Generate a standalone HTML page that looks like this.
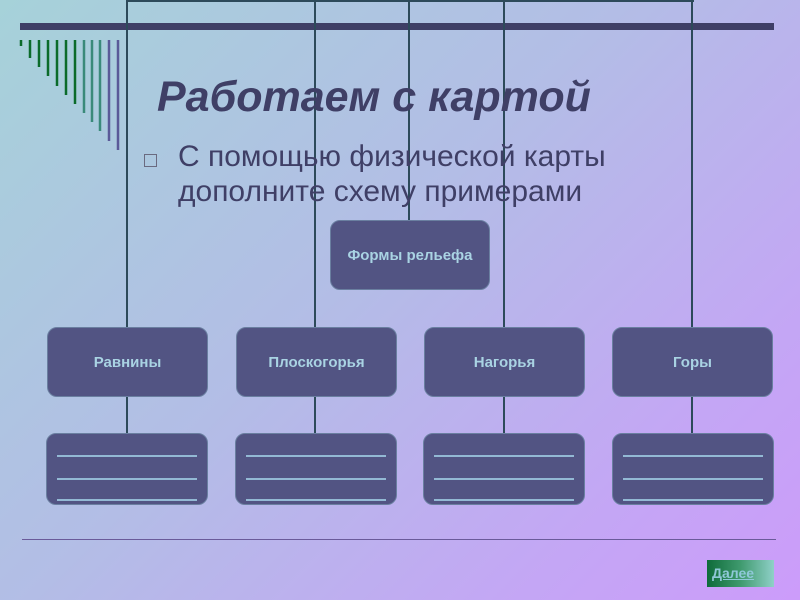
<!DOCTYPE html>
<html><head><meta charset="utf-8"><style>
body{margin:0}
#p{position:relative;width:800px;height:600px;overflow:hidden;background:linear-gradient(135deg,#a6d2d9 0%,#b3bde6 45%,#c4a6f5 80%,#cc9cfa 100%);font-family:"Liberation Sans",sans-serif}
.a{position:absolute}
.v{position:absolute;width:2px;background:#2d4a5a}
.b{position:absolute;background:#525483;border:1px solid #6a7fa0;border-radius:10px;box-sizing:border-box;color:#a9d3e3;font-weight:bold;font-size:15px;display:flex;align-items:center;justify-content:center}
.l{position:absolute;left:10px;right:10px;height:2px;background:#93b9d4}
</style></head><body><div id="p">
<div class="a" style="left:20px;top:23px;width:754px;height:7px;background:#3f3f66"></div>
<div class="a" style="left:126px;top:0;width:568px;height:2px;background:#2d4a5a"></div>
<div class="v" style="left:126px;top:0;height:328px"></div>
<div class="v" style="left:314px;top:0;height:328px"></div>
<div class="v" style="left:408px;top:0;height:221px"></div>
<div class="v" style="left:503px;top:0;height:328px"></div>
<div class="v" style="left:691px;top:0;height:328px"></div>
<div class="v" style="left:126px;top:396px;height:38px"></div>
<div class="v" style="left:314px;top:396px;height:38px"></div>
<div class="v" style="left:503px;top:396px;height:38px"></div>
<div class="v" style="left:691px;top:396px;height:38px"></div>
<svg class="a" style="left:0;top:0" width="130" height="170">
<g stroke-width="2.5">
<line x1="21" y1="40" x2="21" y2="46" stroke="#0b6b2a"/>
<line x1="30" y1="40" x2="30" y2="58" stroke="#0b6b2a"/>
<line x1="39" y1="40" x2="39" y2="67" stroke="#0b6b2a"/>
<line x1="48" y1="40" x2="48" y2="76" stroke="#0b6b2a"/>
<line x1="57" y1="40" x2="57" y2="86" stroke="#0b6b2a"/>
<line x1="66" y1="40" x2="66" y2="95" stroke="#0b6b2a"/>
<line x1="75" y1="40" x2="75" y2="104" stroke="#0b6b2a"/>
<line x1="84" y1="40" x2="84" y2="113" stroke="#3a8a7a"/>
<line x1="92" y1="40" x2="92" y2="122" stroke="#3a8a7a"/>
<line x1="100" y1="40" x2="100" y2="131" stroke="#3a8a7a"/>
<line x1="109" y1="40" x2="109" y2="141" stroke="#5a5a98"/>
<line x1="118" y1="40" x2="118" y2="150" stroke="#5a5a98"/>
</g></svg>
<div class="a" style="left:157px;top:73px;font-size:43px;font-weight:bold;font-style:italic;color:#3f3f66">Работаем с картой</div>
<div class="a" style="left:144px;top:154px;width:11px;height:11px;border:1px solid #6a6a80"></div>
<div class="a" style="left:178px;top:139px;font-size:30px;line-height:35px;color:#3f3f66">С помощью физической карты<br>дополните схему примерами</div>
<div class="b" style="left:330px;top:220px;width:160px;height:70px">Формы рельефа</div>
<div class="b" style="left:47px;top:327px;width:161px;height:70px">Равнины</div>
<div class="b" style="left:236px;top:327px;width:161px;height:70px">Плоскогорья</div>
<div class="b" style="left:424px;top:327px;width:161px;height:70px">Нагорья</div>
<div class="b" style="left:612px;top:327px;width:161px;height:70px">Горы</div>
<div class="b" style="left:46px;top:433px;width:162px;height:72px"><div class="l" style="top:21px"></div><div class="l" style="top:44px"></div><div class="l" style="top:65px"></div></div>
<div class="b" style="left:235px;top:433px;width:162px;height:72px"><div class="l" style="top:21px"></div><div class="l" style="top:44px"></div><div class="l" style="top:65px"></div></div>
<div class="b" style="left:423px;top:433px;width:162px;height:72px"><div class="l" style="top:21px"></div><div class="l" style="top:44px"></div><div class="l" style="top:65px"></div></div>
<div class="b" style="left:612px;top:433px;width:162px;height:72px"><div class="l" style="top:21px"></div><div class="l" style="top:44px"></div><div class="l" style="top:65px"></div></div>
<div class="a" style="left:22px;top:539px;width:754px;height:1px;background:#6a5a9a"></div>
<div class="a" style="left:707px;top:560px;width:67px;height:27px;background:linear-gradient(90deg,#0e6b3a,#3f9a6e 50%,#8fd0c8);color:#8fc8d8;font-weight:bold;font-size:14px;text-decoration:underline;line-height:27px;padding-left:5px;box-sizing:border-box">Далее</div>
</div></body></html>
